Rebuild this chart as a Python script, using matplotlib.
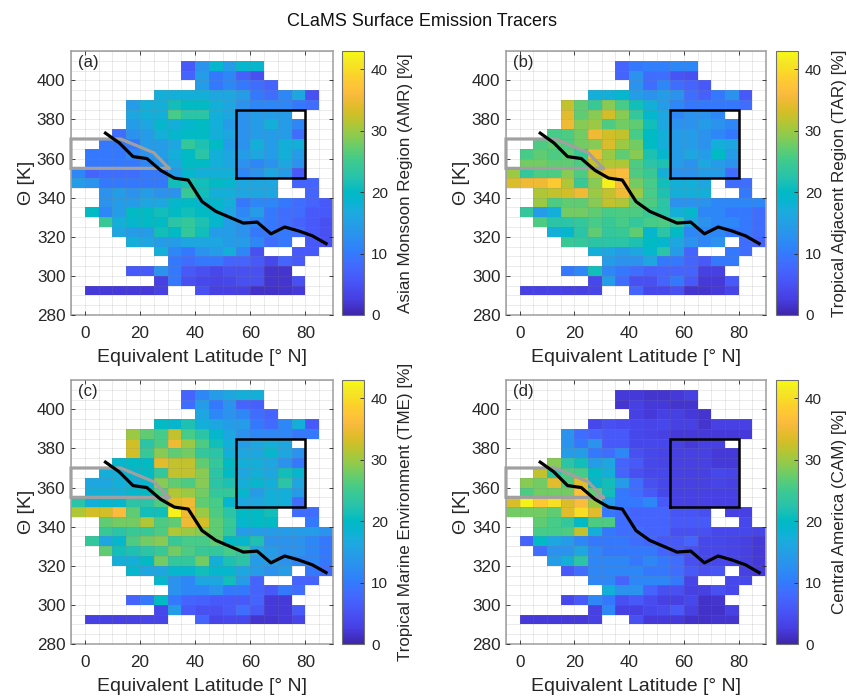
import numpy as np
import matplotlib
matplotlib.use("Agg")
import matplotlib.pyplot as plt
from matplotlib.colors import LinearSegmentedColormap

plt.rcParams['font.family'] = ['Liberation Sans', 'DejaVu Sans']

n = np.nan

# cell edges
lat_edges = np.arange(-5, 95, 5)
theta_edges = np.arange(290, 415, 5)

# rows go from theta=405 down to theta=290, columns from lat=-5 to lat=85
amr = [
    [n,n,n,n,n,n,n,n, 6,13,19,14.5,19,19, n,n,n,n,n],
    [n,n,n,n,n,n,n,n, 7.3,14.5,9.8,11.5,6.8,4.8, n,n,n,n,n],
    [n,n,n,n,n,n,n,n,n, 14.5,9.8,11.5,9.8,8.5,7.3, n,n,n,n],
    [n,n,n,n,n,n, 17.5,17.5,17.5,17.5,16,16,14.5,9.8,8.5,11.5,16,4.8, n],
    [n,n,n,n, 14.5,17.5,17.5,21,20,20,17.5,16,13,11.5,11.5,11.5,9.8,8.5, n],
    [n,n,n,n, 16,17.5,17.5,25.5,23,23,17.5,16,13,14.5,14.5,14.5, n,n,n],
    [n,n,n,n, 14.5,16,19,17.5,19,20,17.5,14.5,13,14.5,17.5,14.5,11.5, n,n],
    [n,n,n, 8.5,13,14.5,17.5,19,20,20,17.5,16,13,14.5,14.5,14.5,8.5, n,n],
    [n,n, 9.8,9.8,9.8,14.5,14.5,16,24,22,20,14.5,13,17.5,14.5,17.5,17.5, n,n],
    [n, 9.8,9.8,9.8,11.5,13,14.5,17.5,20,23,17.5,16,14.5,16,14.5,17.5,14.5, n,n],
    [n, 9.8,9.8,9.8,9.8,11.5,13,16,20,20,17.5,16,13,11.5,13,16,13, n,n],
    [11.5,7.3,8.5,8.5,8.5,9.8,9.8,14.5,19,17.5,17.5,17.5,11.5,13,16,14.5,6, n,n],
    [14.5,13,9.8,9.8,9.8,9.8,9.8,21,22,21,20,19,16,16,16, n, 7.3,7.3, n],
    [n,n, 13,14.5,13,14.5,13,13,24.5,21,17.5,17.5,16,16,16, n,n, 7.3, n],
    [n,n, 13,14.5,14.5,16,16,19,20,19,19,17.5,9.8,11.5,11.5,9.8,8.5,7.3,6],
    [n, 20,11.5,14.5,20,20,21,20,21,20,19,16,11.5,14.5,9.8,8.5,8.5,6,6],
    [n,n, 24.5,17.5,19,20,20,23,24,22,19,14.5,13,11.5,9.8,8.5,7.3,6,4.8],
    [n,n,n, 16,14.5,14.5,21,20,24,21,14.5,14.5,13,9.8,9.8,9.8,8.5,6,4.8],
    [n,n,n,n, 17.5,16,14.5,14.5,16,16,16,14.5,14.5,11.5,8.5,9.8, n, 6,4.8],
    [n,n,n,n,n,n, 17.5,11.5,9.8,13,14.5,17.5,11.5,4.8, n,n, 6,6, n],
    [n,n,n,n,n,n,n, 9.8,8.5,9.8,9.8,7.3,7.3,6,3.8,7.3,6, n,n],
    [n,n,n,n, 6,6,13,9.8,6,4.8,3.8,4.8,4.8,4.8,1.8,1.8, n,n,n],
    [n,n,n,n,n,n, 2.8,9.8,4.8,3.8,3.3,3.8,4.8,4.8,1.8,1.8,4.8, n,n],
    [n, 2.2,2.2,2.2,2.2,2.2,2.8, n,n, 4.8,2.8,2.8,2.8,1.5,1.5,1.8,2.2, n,n],
]
tar = [
    [n,n,n,n,n,n,n,n, 7.3,9.8,10.5,10.5,11.5,11.5, n,n,n,n,n],
    [n,n,n,n,n,n,n,n, 7.3,13,8.5,8.5,5.5,4.8, n,n,n,n,n],
    [n,n,n,n,n,n,n,n,n, 13,8.5,11.5,8.5,7.3,6, n,n,n,n],
    [n,n,n,n,n,n, 17.5,17.5,19,14.5,13,14.5,13,8.5,6.8,9.8,13,6, n],
    [n,n,n,n, 32,27,24.5,29,25.5,21,17.5,14.5,11.5,9.8,9.8,9.8,9.8,8.5, n],
    [n,n,n,n, 34,27,29,33,29,24,19,16,11.5,13,13,11.5, n,n,n],
    [n,n,n,n, 35,29,30,26,28,27,21,16,13,13,14.5,13,11.5, n,n],
    [n,n,n, 25.5,26,28,35,33,32,25.5,20,17.5,14.5,14.5,13,11.5,9.8, n,n],
    [n,n, 26,27,26,28,29,33.5,30,28,20,17.5,14.5,14.5,13,17.5,16, n,n],
    [n, 25.5,27,26,27,24.5,35,30,27,29,22,19,14.5,16,14.5,20,14.5, n,n],
    [n, 28,28,27,27,26,32,31,31,26,23,22,14.5,13,16,14.5,13, n,n],
    [30,24,26,26,29,26,31,35,36,26,24.5,17.5,13,13,14.5,14.5,8.5, n,n],
    [33.5,35,35,38,31,24.5,29,42,36,28,25.5,21,17.5,17.5,16, n, 8.5,8.5, n],
    [n,n, 31,32,33,35,30,32,35,30,25.5,22,17.5,17.5,17.5, n,n, 9.8, n],
    [n,n, 30,26,27,27,29,32,31,27,26,23,13,13,13,11.5,11.5,11.5,11.5],
    [n, 24,14.5,17.5,28,28,27,25.5,26,26,24.5,23,17.5,19,11.5,11.5,9.8,9.8,8.5],
    [n,n, 26,23,23,24,25.5,24.5,25.5,24,25.5,26,24,16,13,11.5,11.5,9.8,8.5],
    [n,n,n, 17.5,19,23,27,24,24.5,27,19,23,20,11.5,11.5,11.5,9.8,9.8,8.5],
    [n,n,n,n, 24.5,24,23,23,23,22,20,19,16,13,11.5,13, n, 8.5,7.3],
    [n,n,n,n,n,n, 17.5,16,14.5,16,19,23,14.5,7.3, n,n, 9.8,8.5, n],
    [n,n,n,n,n,n,n, 14.5,13,13,16,9.8,9.8,7.3,6,9.8,9.8, n,n],
    [n,n,n,n, 9.8,11.5,21,11.5,9.8,8.5,6.8,7.3,7.3,7.3,2.8,2.8, n,n,n],
    [n,n,n,n,n,n, 3.8,14.5,8.5,4.8,4.8,7.3,9.8,6,2.2,2.2,6, n,n],
    [n, 2.8,2.8,2.8,2.8,2.8,3.3, n,n, 7.3,3.8,3.8,4.8,1.8,1.8,2.2,3.3, n,n],
]
tme = [
    [n,n,n,n,n,n,n,n, 7.3,11.5,14.5,16,17.5,17.5, n,n,n,n,n],
    [n,n,n,n,n,n,n,n, 8.5,14.5,9.8,13,7.3,6.8, n,n,n,n,n],
    [n,n,n,n,n,n,n,n,n, 16,11.5,13,11.5,8.5,7.3, n,n,n,n],
    [n,n,n,n,n,n, 20,19,22,17.5,16,14.5,14.5,9.8,8,11.5,17.5,6, n],
    [n,n,n,n, 30,27,25.5,32,25.5,23,19,16,13,11.5,11.5,11.5,9.8,9.8, n],
    [n,n,n,n, 33,23,26,35,30,26,21,17.5,14.5,16,17.5,16, n,n,n],
    [n,n,n,n, 33,24.5,29,27,28,24,23,17.5,16,16,19,16,13, n,n],
    [n,n,n, 19,20,20,34,32,32,27,24,20,17.5,17.5,16,13,9.8, n,n],
    [n,n, 17.5,17.5,19,20,24,32,32,29,23,20,16,17.5,16,21,19, n,n],
    [n, 16,16,17.5,17.5,19,29,27,26,29,23,22,17.5,19,17.5,23,16, n,n],
    [n, 17.5,17.5,17.5,19,20,26,31,30,28,24,24,19,14.5,17.5,17.5,14.5, n,n],
    [23,17.5,19,19,23,23,26,34,35,27,25.5,19,16,16,17.5,17.5,8.5, n,n],
    [31,33,33,36,27,21,21,42,35,30,26,23,20,20,21, n, 8.5,8.5, n],
    [n,n, 27,28,28,31,26,27,35,33,27,24.5,19,20,20, n,n, 9.8, n],
    [n,n, 24.5,23,24.5,24.5,26,31,30,29,27,24,14.5,14.5,14.5,14.5,14.5,14.5,13],
    [n, 24,16,19,26,28,29,24.5,25.5,25.5,27,20,19,22,13,13,13,11.5,9.8],
    [n,n, 27,21,22,23,24.5,28,26,24.5,24,25.5,24,16,14.5,13,13,11.5,9.8],
    [n,n,n, 17.5,17.5,20,28,24,24,28,17.5,22,23,14.5,14.5,13,11.5,11.5,9.8],
    [n,n,n,n, 19,16,16,19,19,21,19,19,16,14.5,13,14.5, n, 9.8,8.5],
    [n,n,n,n,n,n, 19,13,11.5,16,16,21,14.5,7.3, n,n, 7.3,7.3, n],
    [n,n,n,n,n,n,n, 13,11.5,11.5,13,9.8,9.8,7.3,6,9.8,8.5, n,n],
    [n,n,n,n, 7.3,9.8,20,9.8,7.3,6.8,6,6,6,7.3,2.2,2.2, n,n,n],
    [n,n,n,n,n,n, 3.8,14.5,6,4.8,4.8,6,8.5,6,2.2,2.2,6, n,n],
    [n, 2.8,2.8,2.8,2.8,3.3,3.3, n,n, 7.3,3.3,3.8,3.8,1.8,1.8,2.2,3.3, n,n],
]
cam = [
    [n,n,n,n,n,n,n,n, 2.2,2.2,1.8,1.8,2.2,2.8, n,n,n,n,n],
    [n,n,n,n,n,n,n,n, 1.8,2.8,2.2,2.2,1.8,1.8, n,n,n,n,n],
    [n,n,n,n,n,n,n,n,n, 2.8,2.2,2.8,2.8,2.2,1.7, n,n,n,n],
    [n,n,n,n,n,n, 3.8,4.8,4.3,3.8,3.3,3.8,2.8,2.8,1.8,2.8,2.8,2.8, n],
    [n,n,n,n, 13,8.5,7.3,6,6,3.8,3.3,2.8,2.2,2.2,2.2,2.2,2.2,2.2, n],
    [n,n,n,n, 13,9.8,13,6,6,3.8,3.8,3.8,2.8,2.2,2.8,2.8, n,n,n],
    [n,n,n,n, 14.5,14.5,9.8,8.5,11.5,4.8,3.8,3.3,2.8,2.8,2.8,2.2,2.2, n,n],
    [n,n,n, 29,23,21,14.5,16,7.3,6,3.8,3.3,2.8,2.8,2.8,2.2,2.2, n,n],
    [n,n, 32,23,26,25.5,20,17.5,7.3,4.8,3.8,3.8,2.8,2.8,2.8,3.8,3.3, n,n],
    [n, 29,28,34,26,34,19,21,14.5,8.5,4.8,3.8,2.8,2.8,2.8,3.3,2.8, n,n],
    [n, 26,28,28,28,37,27,21,9.8,8.5,6,3.8,2.8,2.8,2.8,2.8,2.8, n,n],
    [33.5,42,38,40,33.5,36,30,14.5,9.8,9.8,11.5,6,2.8,2.8,2.8,2.8,2.8, n,n],
    [28,28,28,27,34,40,34,9.8,8.5,7.3,7.3,7.3,5.5,5.5,4.8, n, 2.8,2.8, n],
    [n,n, 27,25.5,24,20,26,26,8.5,7.3,7.3,7.3,6,6,6, n,n, 3.8, n],
    [n,n, 25.5,25.5,26,32,17.5,9.8,8.5,8.5,7.3,7.3,4.8,4.8,4.8,3.8,3.8,3.8,3.3],
    [n, 7.3,20,16,14.5,11.5,9.8,9.8,9.8,8.5,7.3,6,6,7.3,3.8,3.8,3.3,2.8,2.2],
    [n,n, 8.5,13,13,16,11.5,9.8,9.8,9.8,9.8,7.3,6,4.8,3.8,3.8,3.3,2.8,2.2],
    [n,n,n, 14.5,17.5,23,11.5,11.5,11.5,9.8,11.5,9.8,8.5,4.8,3.8,3.8,3.3,2.8,2.2],
    [n,n,n,n, 6,8.5,11.5,11.5,11.5,11.5,9.8,9.8,8.5,6,4.8,5.5, n, 2.8,2.2],
    [n,n,n,n,n,n, 11.5,11.5,7.3,11.5,11.5,11.5,9.8,3.3, n,n, 3.8,3.8, n],
    [n,n,n,n,n,n,n, 17.5,13,13,7.3,4.8,4.8,2.8,2.8,4.8,3.8, n,n],
    [n,n,n,n, 3.8,6,11.5,9.8,4.8,6,4.3,2.8,2.8,3.8,1.5,1.8, n,n,n],
    [n,n,n,n,n,n, 2.8,11.5,2.8,2.8,3.8,4.3,6,2.8,1.5,1.5,2.8, n,n],
    [n, 2.2,2.2,2.2,2.2,2.2,2.8, n,n, 4.8,2.2,2.2,2.2,1.5,1.5,1.8,1.8, n,n],
]

# tropopause line
tp_lat = [7.5, 12.5, 17.5, 22.5, 27.5, 32.5, 37.5, 42.5, 47.5, 52.5, 57.5, 62.5, 67.5, 72.5, 77.5, 82.5, 87.5]
tp_theta = [373, 368, 361, 360, 354, 350, 349, 338, 333, 330, 327, 327.5, 321.5, 325, 323, 320.5, 316.5]
# gray outline and black box
gray_lat = [30.5, -5, -5, 13, 25, 30.5]
gray_theta = [355, 355, 370, 370, 363, 355]
box_lat = [55, 80, 80, 55, 55]
box_theta = [350, 350, 385, 385, 350]

panels = ["(a)", "(b)", "(c)", "(d)"]
cb_labels = ["Asian Monsoon Region (AMR) [%]", "Tropical Adjacent Region (TAR) [%]",
             "Tropical Marine Environment (TME) [%]", "Central America (CAM) [%]"]

parula = LinearSegmentedColormap.from_list("parula", [
    (0.2422,0.1504,0.6603),(0.2647,0.1978,0.7952),(0.2783,0.2559,0.8991),(0.2813,0.3006,0.9414),
    (0.2795,0.3447,0.9717),(0.2699,0.3892,0.9906),(0.2440,0.4358,0.9988),(0.1963,0.4847,0.9892),
    (0.1786,0.5289,0.9682),(0.1687,0.5703,0.9359),(0.1460,0.6091,0.9079),(0.1248,0.6459,0.8883),
    (0.0952,0.6798,0.8598),(0.0297,0.7082,0.8163),(0.0067,0.7312,0.7660),(0.0964,0.7500,0.7120),
    (0.1717,0.7670,0.6554),(0.2161,0.7843,0.5923),(0.2906,0.7973,0.5188),(0.3909,0.8029,0.4354),
    (0.5044,0.7993,0.3480),(0.6174,0.7876,0.2612),(0.7242,0.7698,0.1910),(0.8203,0.7498,0.1535),
    (0.9035,0.7330,0.1774),(0.9728,0.7298,0.2394),(0.9970,0.7659,0.2199),(0.9892,0.8063,0.1779),
    (0.9694,0.8705,0.1469),(0.9595,0.9170,0.1424),(0.9763,0.9831,0.0538)], N=256)

W, H = 847.0, 697.0
# left, right, top, bottom in pixels
ax_px = [(71, 333, 51, 315), (506, 766, 51, 315), (71, 333, 380, 644), (506, 766, 380, 644)]
cb_px = [(342, 364), (776, 798), (342, 364), (776, 798)]

fig = plt.figure(figsize=(8.47, 6.97), dpi=100)

for i, data in enumerate([amr, tar, tme, cam]):
    l, r, t, b = ax_px[i]
    ax = fig.add_axes([l/W, 1-b/H, (r-l)/W, (b-t)/H])
    pc = ax.pcolormesh(lat_edges, theta_edges, np.array(data)[::-1], cmap=parula, vmin=0, vmax=43, zorder=1)
    ax.plot(gray_lat, gray_theta, color="#a0a0a0", lw=2.3, zorder=3, clip_on=False, solid_joinstyle="miter")
    ax.plot(box_lat, box_theta, color="black", lw=1.8, zorder=4, solid_joinstyle="miter")
    ax.plot(tp_lat, tp_theta, color="black", lw=2.3, zorder=5)
    ax.set_xlim(-5, 90)
    ax.set_ylim(280, 415)
    ax.set_xticks(range(0, 100, 20))
    ax.set_yticks(range(280, 420, 20))
    ax.set_xticks(range(-5, 95, 5), minor=True)
    ax.set_yticks(range(280, 420, 5), minor=True)
    ax.set_axisbelow(False)
    ax.grid(which="both", color="#808080", alpha=0.16, lw=0.7, zorder=2)
    ax.tick_params(which="major", direction="in", length=3, width=0.6, labelsize=12.3, colors="#262626", top=True, right=True)
    ax.tick_params(axis="x", which="major", pad=8)
    ax.tick_params(axis="y", which="major", pad=4)
    ax.tick_params(which="minor", length=0)
    for s in ax.spines.values():
        s.set_color("#a6a6a6")
        s.set_linewidth(1.2)
    ax.set_xlabel("Equivalent Latitude [° N]", fontsize=14, color="#262626", labelpad=6)
    ax.set_ylabel("Θ [K]", fontsize=14, color="#262626", labelpad=1)
    ax.text(0.025, 0.985, panels[i], transform=ax.transAxes, va="top", ha="left", fontsize=12, color="#262626")

    c0, c1 = cb_px[i]
    cax = fig.add_axes([c0/W, 1-b/H, (c1-c0)/W, (b-t)/H])
    cb = fig.colorbar(pc, cax=cax)
    cb.set_ticks(range(0, 50, 10))
    cb.ax.tick_params(direction="in", length=3, width=0.6, labelsize=11, colors="#262626", pad=5)
    cb.outline.set_edgecolor("#707070")
    cb.outline.set_linewidth(0.8)
    cb.set_label(cb_labels[i], fontsize=12.25, color="#262626", labelpad=7)

fig.text(421.5/W, 1-21/H, "CLaMS Surface Emission Tracers", ha="center", va="center", fontsize=13, color="#111111")

fig.savefig("out.png", dpi=100)
